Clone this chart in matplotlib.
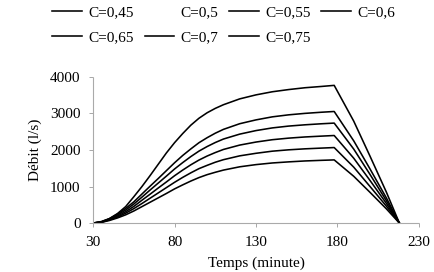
import matplotlib
matplotlib.use("Agg")
import matplotlib.pyplot as plt

plt.rcParams['font.family'] = ['Liberation Serif', 'DejaVu Serif']

# time (minutes)
temps = [30, 35, 40, 45, 50, 55, 60, 65, 70, 75, 80, 85, 90, 95, 100, 105, 110,
         120, 130, 140, 150, 160, 170, 178, 190, 200, 210, 218]

# flow (l/s) for each C value
c045 = [0, 17, 70, 140, 225, 330, 450, 570, 690, 810, 935, 1045, 1150, 1245, 1325,
        1390, 1450, 1540, 1600, 1645, 1675, 1700, 1717, 1729, 1280, 840, 390, 0]
c050 = [0, 18, 78, 152, 248, 362, 492, 625, 758, 890, 1025, 1148, 1262, 1367, 1452,
        1527, 1595, 1690, 1755, 1807, 1840, 1865, 1885, 1898, 1405, 920, 428, 0]
c055 = [0, 20, 85, 165, 270, 395, 535, 680, 825, 970, 1115, 1250, 1375, 1490, 1580,
        1665, 1735, 1840, 1910, 1968, 2005, 2032, 2052, 2067, 1530, 1000, 465, 0]
c060 = [0, 24, 95, 190, 310, 455, 625, 790, 960, 1125, 1295, 1450, 1595, 1725, 1835,
        1930, 2015, 2135, 2218, 2282, 2325, 2357, 2380, 2397, 1775, 1165, 540, 0]
c065 = [0, 27, 110, 220, 355, 520, 710, 905, 1095, 1285, 1480, 1655, 1820, 1970, 2095,
        2205, 2300, 2435, 2532, 2605, 2655, 2690, 2718, 2737, 2025, 1330, 615, 0]
c070 = [0, 30, 120, 245, 400, 580, 795, 1010, 1220, 1435, 1650, 1850, 2030, 2200, 2337,
        2460, 2565, 2720, 2825, 2908, 2963, 3003, 3034, 3055, 2250, 1480, 690, 0]
c075 = [0, 40, 120, 260, 450, 720, 1000, 1300, 1610, 1920, 2200, 2450, 2680, 2870, 3020,
        3140, 3240, 3400, 3510, 3595, 3655, 3705, 3740, 3770, 2790, 1830, 850, 0]

series = [c045, c050, c055, c060, c065, c070, c075]
labels = ["C=0,45", "C=0,5", "C=0,55", "C=0,6", "C=0,65", "C=0,7", "C=0,75"]

fig = plt.figure(figsize=(4.35, 2.72), dpi=100)
ax = fig.add_axes([0.214, 0.180, 0.749, 0.537])

handles = []
for vals, lab in zip(series, labels):
    # C=0,5 has no visible line in the original
    col = 'none' if lab == "C=0,5" else 'black'
    h, = ax.plot(temps, vals, color=col, lw=1.15, label=lab)
    handles.append(h)

ax.set_xlim(30, 230)
ax.set_ylim(0, 4000)
ax.set_xticks([30, 80, 130, 180, 230])
ax.set_yticks([0, 1000, 2000, 3000, 4000])
ax.tick_params(labelsize=11, length=3, width=0.6, color='#999999', pad=6)

for side in ['top', 'right']:
    ax.spines[side].set_visible(False)
for side in ['left', 'bottom']:
    ax.spines[side].set_color('#aaaaaa')
    ax.spines[side].set_linestyle((0, (2, 1)))
    ax.spines[side].set_linewidth(0.8)

ax.set_ylabel("Débit (l/s)", fontsize=11, labelpad=6)
ax.set_xlabel("Temps (minute)", fontsize=11, labelpad=6)

# row-major legend order for 4 columns
order = [0, 4, 1, 5, 2, 6, 3]
fig.legend([handles[i] for i in order], [labels[i] for i in order],
           ncol=4, loc='upper left', bbox_to_anchor=(0.089, 1.03), frameon=False,
           fontsize=11, handlelength=1.95, handletextpad=0.4, columnspacing=0.7,
           labelspacing=0.75)

fig.savefig('out.png', dpi=100)
